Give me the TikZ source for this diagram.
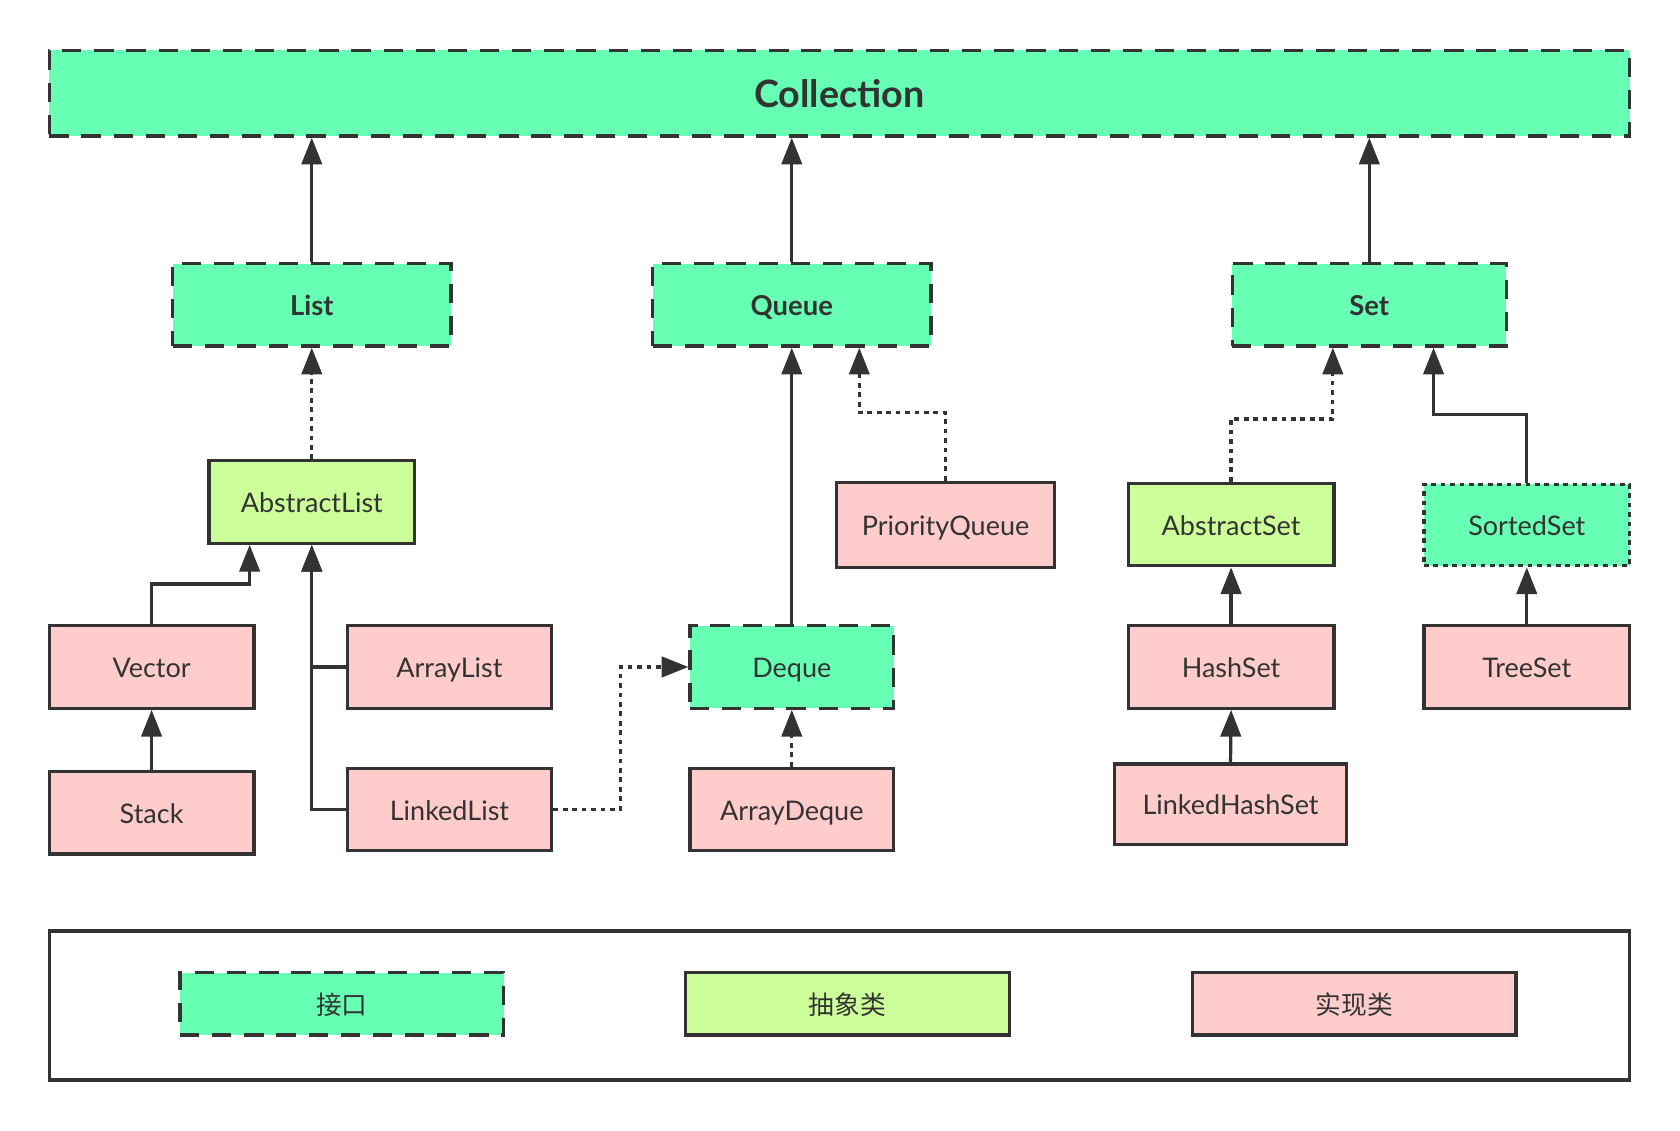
\documentclass[tikz,border=0pt]{standalone}
\usepackage{fontspec}
\setmainfont{Lato}
\newfontfamily\cjk{Noto Sans CJK SC}
\usetikzlibrary{arrows.meta,calc}
\definecolor{ifc}{HTML}{66FFB3}
\definecolor{abc}{HTML}{CCFF99}
\definecolor{imc}{HTML}{FFCCCC}
\definecolor{ln}{HTML}{333333}
\begin{document}
\begin{tikzpicture}[x=0.5pt,y=-0.5pt,
  base/.style={draw=ln, line width=1.5pt, text=ln, inner sep=0pt, text height=10pt, text depth=0pt, font=\fontsize{12.6}{14}\selectfont},
  ifbox/.style={base, fill=ifc, dash pattern=on 9pt off 6pt},
  ifdot/.style={base, fill=ifc, dash pattern=on 2.2pt off 2.2pt},
  abbox/.style={base, fill=abc},
  imbox/.style={base, fill=imc},
  wd/.style={minimum width=#1},
  ht/.style={minimum height=#1},
  bld/.style={font=\fontsize{12.8}{14}\selectfont\bfseries},
  cjkf/.style={font=\cjk\fontsize{12}{14}\selectfont},
  arr/.style={draw=ln, line width=1.5pt, -{Triangle[width=9.5pt,length=12.5pt]}},
  darr/.style={arr, dash pattern=on 2.2pt off 2.2pt}
]
\fill[white] (0,0) rectangle (1568,1055);
\path[use as bounding box] (0,0) rectangle (1568,1055);

% interfaces
\node[ifbox, wd=737.5pt, ht=40pt, text height=13.6pt, font=\fontsize{17.6}{20}\selectfont\bfseries] (coll) at (783.5,87) {Collection};
\node[ifbox, bld, wd=130pt, ht=38.5pt] (list) at (291,284.5) {List};
\node[ifbox, bld, wd=130pt, ht=38.5pt] (qu) at (739,284.5) {Queue};
\node[ifbox, bld, wd=128pt, ht=38.5pt] (set) at (1278,284.5) {Set};

% second level
\node[abbox, wd=96pt, ht=38.5pt] (al) at (291,468.5) {AbstractList};
\node[imbox, wd=101.5pt, ht=40pt] (pq) at (882.5,490) {PriorityQueue};
\node[abbox, wd=96pt, ht=38.5pt] (as) at (1149,489.5) {AbstractSet};
\node[ifdot, wd=96pt, ht=38pt] (ss) at (1425,490) {SortedSet};

% third level
\node[imbox, wd=95.5pt, ht=38.5pt] (vec) at (141.5,622.5) {Vector};
\node[imbox, wd=95.5pt, ht=38.5pt] (arl) at (419.5,622.5) {ArrayList};
\node[ifbox, wd=95pt, ht=38.5pt] (dq) at (739,622.5) {Deque};
\node[imbox, wd=96pt, ht=38.5pt] (hs) at (1149,622.5) {HashSet};
\node[imbox, wd=96pt, ht=38.5pt] (ts) at (1425,622.5) {TreeSet};

% fourth level
\node[imbox, wd=95.5pt, ht=38.5pt] (stk) at (141.5,758.5) {Stack};
\node[imbox, wd=95.5pt, ht=38.5pt] (ll) at (419.5,755.5) {LinkedList};
\node[imbox, wd=95pt, ht=38.5pt] (ad) at (739,755.5) {ArrayDeque};
\node[imbox, wd=108.5pt, ht=37.5pt] (lhs) at (1148.5,750.5) {LinkedHashSet};

% legend
\node[base, fill=white, wd=737.5pt, ht=69.5pt] (leg) at (783.5,938.5) {};
\node[ifbox, cjkf, wd=151pt, ht=29pt] (lif) at (319,937) {接口};
\node[abbox, cjkf, wd=151pt, ht=29pt] (lab) at (791,937) {抽象类};
\node[imbox, cjkf, wd=151pt, ht=29pt] (lim) at (1264,937) {实现类};

% joints
\coordinate (j1) at (233,545);
\coordinate (j2) at (579,0);
\coordinate (j3) at (802,385);
\coordinate (j4) at (1244,391);
\coordinate (j5) at (1338,387);

% connectors
\draw[arr] (list.north) -- (list.north |- coll.south);
\draw[arr] (qu.north) -- (qu.north |- coll.south);
\draw[arr] (set.north) -- (set.north |- coll.south);

\draw[darr] (al.north) -- (list.south);
\draw[arr] (vec.north) |- (j1) -- (j1 |- al.south);
\draw[arr] (arl.west) -| (al.south);
\draw[arr] (ll.west) -| (al.south);
\draw[arr] (stk.north) -- (vec.south);

\draw[darr] (ll.east) -- (ll.east -| j2) |- (dq.west);
\draw[darr] (ad.north) -- (dq.south);
\draw[arr] (dq.north) -- (qu.south);
\draw[darr] (pq.north) |- (j3) -- (j3 |- qu.south);

\draw[darr] (as.north) |- (j4) -- (j4 |- set.south);
\draw[arr] (ss.north) |- (j5) -- (j5 |- set.south);
\draw[arr] (hs.north) -- (as.south);
\draw[arr] (lhs.north) -- (hs.south);
\draw[arr] (ts.north) -- (ss.south);
\end{tikzpicture}
\end{document}
